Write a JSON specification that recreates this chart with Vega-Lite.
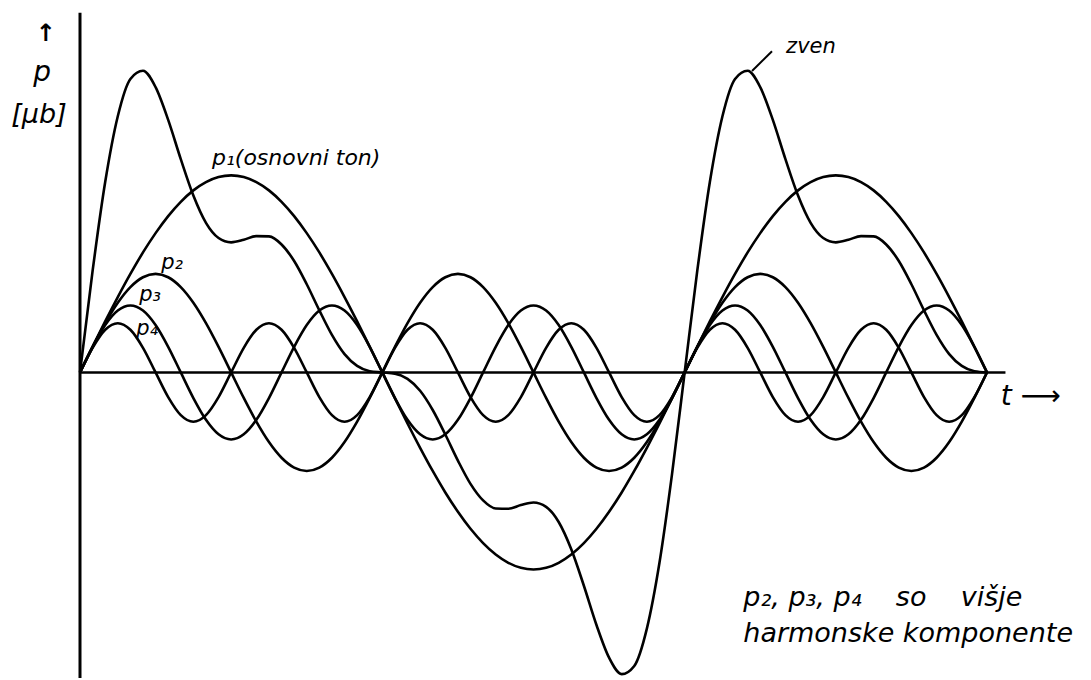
{
  "$schema": "https://vega.github.io/schema/vega-lite/v6.json",
  "width": 1091,
  "height": 680,
  "autosize": {"type": "fit", "contains": "padding"},
  "padding": 0,
  "background": "white",
  "config": {"view": {"stroke": null}, "text": {"font": "DejaVu Sans", "fontStyle": "italic", "color": "black"}},
  "datasets": {
    "waves": [
      {"t":0,"p1":0,"p2":0,"p3":0,"p4":0,"zven":0},
      {"t":7.5,"p1":26.1,"p2":25.9,"p3":26,"p4":25,"zven":103},
      {"t":15,"p1":51.8,"p2":50,"p3":48.1,"p4":43.3,"zven":193.2},
      {"t":22.5,"p1":76.5,"p2":70.7,"p3":62.8,"p4":50,"zven":260},
      {"t":30,"p1":100,"p2":86.6,"p3":68,"p4":43.3,"zven":297.9},
      {"t":37.5,"p1":121.8,"p2":96.6,"p3":62.8,"p4":25,"zven":306.2},
      {"t":45,"p1":141.4,"p2":100,"p3":48.1,"p4":0,"zven":289.5},
      {"t":52.5,"p1":158.7,"p2":96.6,"p3":26,"p4":-25,"zven":256.3},
      {"t":60,"p1":173.2,"p2":86.6,"p3":0,"p4":-43.3,"zven":216.5},
      {"t":67.5,"p1":184.8,"p2":70.7,"p3":-26,"p4":-50,"zven":179.5},
      {"t":75,"p1":193.2,"p2":50,"p3":-48.1,"p4":-43.3,"zven":151.8},
      {"t":82.5,"p1":198.3,"p2":25.9,"p3":-62.8,"p4":-25,"zven":136.4},
      {"t":90,"p1":200,"p2":0,"p3":-68,"p4":0,"zven":132},
      {"t":97.5,"p1":198.3,"p2":-25.9,"p3":-62.8,"p4":25,"zven":134.6},
      {"t":105,"p1":193.2,"p2":-50,"p3":-48.1,"p4":43.3,"zven":138.4},
      {"t":112.5,"p1":184.8,"p2":-70.7,"p3":-26,"p4":50,"zven":138.1},
      {"t":120,"p1":173.2,"p2":-86.6,"p3":0,"p4":43.3,"zven":129.9},
      {"t":127.5,"p1":158.7,"p2":-96.6,"p3":26,"p4":25,"zven":113.1},
      {"t":135,"p1":141.4,"p2":-100,"p3":48.1,"p4":0,"zven":89.5},
      {"t":142.5,"p1":121.8,"p2":-96.6,"p3":62.8,"p4":-25,"zven":63},
      {"t":150,"p1":100,"p2":-86.6,"p3":68,"p4":-43.3,"zven":38.1},
      {"t":157.5,"p1":76.5,"p2":-70.7,"p3":62.8,"p4":-50,"zven":18.6},
      {"t":165,"p1":51.8,"p2":-50,"p3":48.1,"p4":-43.3,"zven":6.6},
      {"t":172.5,"p1":26.1,"p2":-25.9,"p3":26,"p4":-25,"zven":1.2},
      {"t":180,"p1":0,"p2":0,"p3":0,"p4":0,"zven":0},
      {"t":187.5,"p1":-26.1,"p2":25.9,"p3":-26,"p4":25,"zven":-1.2},
      {"t":195,"p1":-51.8,"p2":50,"p3":-48.1,"p4":43.3,"zven":-6.6},
      {"t":202.5,"p1":-76.5,"p2":70.7,"p3":-62.8,"p4":50,"zven":-18.6},
      {"t":210,"p1":-100,"p2":86.6,"p3":-68,"p4":43.3,"zven":-38.1},
      {"t":217.5,"p1":-121.8,"p2":96.6,"p3":-62.8,"p4":25,"zven":-63},
      {"t":225,"p1":-141.4,"p2":100,"p3":-48.1,"p4":0,"zven":-89.5},
      {"t":232.5,"p1":-158.7,"p2":96.6,"p3":-26,"p4":-25,"zven":-113.1},
      {"t":240,"p1":-173.2,"p2":86.6,"p3":0,"p4":-43.3,"zven":-129.9},
      {"t":247.5,"p1":-184.8,"p2":70.7,"p3":26,"p4":-50,"zven":-138.1},
      {"t":255,"p1":-193.2,"p2":50,"p3":48.1,"p4":-43.3,"zven":-138.4},
      {"t":262.5,"p1":-198.3,"p2":25.9,"p3":62.8,"p4":-25,"zven":-134.6},
      {"t":270,"p1":-200,"p2":0,"p3":68,"p4":0,"zven":-132},
      {"t":277.5,"p1":-198.3,"p2":-25.9,"p3":62.8,"p4":25,"zven":-136.4},
      {"t":285,"p1":-193.2,"p2":-50,"p3":48.1,"p4":43.3,"zven":-151.8},
      {"t":292.5,"p1":-184.8,"p2":-70.7,"p3":26,"p4":50,"zven":-179.5},
      {"t":300,"p1":-173.2,"p2":-86.6,"p3":0,"p4":43.3,"zven":-216.5},
      {"t":307.5,"p1":-158.7,"p2":-96.6,"p3":-26,"p4":25,"zven":-256.3},
      {"t":315,"p1":-141.4,"p2":-100,"p3":-48.1,"p4":0,"zven":-289.5},
      {"t":322.5,"p1":-121.8,"p2":-96.6,"p3":-62.8,"p4":-25,"zven":-306.2},
      {"t":330,"p1":-100,"p2":-86.6,"p3":-68,"p4":-43.3,"zven":-297.9},
      {"t":337.5,"p1":-76.5,"p2":-70.7,"p3":-62.8,"p4":-50,"zven":-260},
      {"t":345,"p1":-51.8,"p2":-50,"p3":-48.1,"p4":-43.3,"zven":-193.2},
      {"t":352.5,"p1":-26.1,"p2":-25.9,"p3":-26,"p4":-25,"zven":-103},
      {"t":360,"p1":0,"p2":0,"p3":0,"p4":0,"zven":0},
      {"t":367.5,"p1":26.1,"p2":25.9,"p3":26,"p4":25,"zven":103},
      {"t":375,"p1":51.8,"p2":50,"p3":48.1,"p4":43.3,"zven":193.2},
      {"t":382.5,"p1":76.5,"p2":70.7,"p3":62.8,"p4":50,"zven":260},
      {"t":390,"p1":100,"p2":86.6,"p3":68,"p4":43.3,"zven":297.9},
      {"t":397.5,"p1":121.8,"p2":96.6,"p3":62.8,"p4":25,"zven":306.2},
      {"t":405,"p1":141.4,"p2":100,"p3":48.1,"p4":0,"zven":289.5},
      {"t":412.5,"p1":158.7,"p2":96.6,"p3":26,"p4":-25,"zven":256.3},
      {"t":420,"p1":173.2,"p2":86.6,"p3":0,"p4":-43.3,"zven":216.5},
      {"t":427.5,"p1":184.8,"p2":70.7,"p3":-26,"p4":-50,"zven":179.5},
      {"t":435,"p1":193.2,"p2":50,"p3":-48.1,"p4":-43.3,"zven":151.8},
      {"t":442.5,"p1":198.3,"p2":25.9,"p3":-62.8,"p4":-25,"zven":136.4},
      {"t":450,"p1":200,"p2":0,"p3":-68,"p4":0,"zven":132},
      {"t":457.5,"p1":198.3,"p2":-25.9,"p3":-62.8,"p4":25,"zven":134.6},
      {"t":465,"p1":193.2,"p2":-50,"p3":-48.1,"p4":43.3,"zven":138.4},
      {"t":472.5,"p1":184.8,"p2":-70.7,"p3":-26,"p4":50,"zven":138.1},
      {"t":480,"p1":173.2,"p2":-86.6,"p3":0,"p4":43.3,"zven":129.9},
      {"t":487.5,"p1":158.7,"p2":-96.6,"p3":26,"p4":25,"zven":113.1},
      {"t":495,"p1":141.4,"p2":-100,"p3":48.1,"p4":0,"zven":89.5},
      {"t":502.5,"p1":121.8,"p2":-96.6,"p3":62.8,"p4":-25,"zven":63},
      {"t":510,"p1":100,"p2":-86.6,"p3":68,"p4":-43.3,"zven":38.1},
      {"t":517.5,"p1":76.5,"p2":-70.7,"p3":62.8,"p4":-50,"zven":18.6},
      {"t":525,"p1":51.8,"p2":-50,"p3":48.1,"p4":-43.3,"zven":6.6},
      {"t":532.5,"p1":26.1,"p2":-25.9,"p3":26,"p4":-25,"zven":1.2},
      {"t":540,"p1":0,"p2":0,"p3":0,"p4":0,"zven":0}
    ]
  },
  "layer": [
    {
      "data": {"values": [{"a": 1}]},
      "mark": {"type": "rule", "strokeWidth": 3, "color": "black"},
      "encoding": {
        "x": {"datum": 0, "type": "quantitative", "scale": {"domain": [-47.63, 601.93], "nice": false, "zero": false}, "axis": null},
        "y": {"datum": -310, "type": "quantitative", "scale": {"domain": [-302, 378], "nice": false, "zero": false}, "axis": null},
        "y2": {"datum": 365}
      }
    },
    {
      "data": {"values": [{"a": 1}]},
      "mark": {"type": "rule", "strokeWidth": 2.5, "color": "black"},
      "encoding": {
        "x": {"datum": 0, "type": "quantitative", "scale": {"domain": [-47.63, 601.93], "nice": false, "zero": false}, "axis": null},
        "x2": {"datum": 551},
        "y": {"datum": 0, "type": "quantitative", "scale": {"domain": [-302, 378], "nice": false, "zero": false}, "axis": null}
      }
    },
    {
      "data": {"values": [{"a": 1}]},
      "mark": {"type": "rule", "strokeWidth": 2, "color": "black"},
      "encoding": {
        "x": {"datum": 400.1, "type": "quantitative", "scale": {"domain": [-47.63, 601.93], "nice": false, "zero": false}, "axis": null},
        "x2": {"datum": 412},
        "y": {"datum": 306, "type": "quantitative", "scale": {"domain": [-302, 378], "nice": false, "zero": false}, "axis": null},
        "y2": {"datum": 326}
      }
    },
    {
      "data": {"name": "waves"},
      "transform": [{"fold": ["p1", "p2", "p3", "p4", "zven"], "as": ["series", "value"]}],
      "mark": {"type": "line", "interpolate": "monotone", "strokeWidth": 2.6, "color": "black"},
      "encoding": {
        "x": {"field": "t", "type": "quantitative", "scale": {"domain": [-47.63, 601.93], "nice": false, "zero": false}, "axis": null},
        "y": {"field": "value", "type": "quantitative", "scale": {"domain": [-302, 378], "nice": false, "zero": false}, "axis": null},
        "detail": {"field": "series"}
      }
    },
    {
      "data": {"values": [
        {"label": "p", "t": -22.6, "v": 304},
        {"label": "t ⟶", "t": 566, "v": -25}
      ]},
      "mark": {"type": "text", "fontSize": 28, "align": "center", "baseline": "middle"},
      "encoding": {
        "x": {"field": "t", "type": "quantitative", "scale": {"domain": [-47.63, 601.93], "nice": false, "zero": false}, "axis": null},
        "y": {"field": "v", "type": "quantitative", "scale": {"domain": [-302, 378], "nice": false, "zero": false}, "axis": null},
        "text": {"field": "label"}
      }
    },
    {
      "data": {"values": [
        {"label": "↑", "t": -20.5, "v": 343}
      ]},
      "mark": {"type": "text", "fontSize": 24, "fontStyle": "normal", "fontWeight": "bold", "align": "center", "baseline": "middle"},
      "encoding": {
        "x": {"field": "t", "type": "quantitative", "scale": {"domain": [-47.63, 601.93], "nice": false, "zero": false}, "axis": null},
        "y": {"field": "v", "type": "quantitative", "scale": {"domain": [-302, 378], "nice": false, "zero": false}, "axis": null},
        "text": {"field": "label"}
      }
    },
    {
      "data": {"values": [
        {"label": "[μb]", "t": -24.4, "v": 261}
      ]},
      "mark": {"type": "text", "fontSize": 27, "align": "center", "baseline": "middle"},
      "encoding": {
        "x": {"field": "t", "type": "quantitative", "scale": {"domain": [-47.63, 601.93], "nice": false, "zero": false}, "axis": null},
        "y": {"field": "v", "type": "quantitative", "scale": {"domain": [-302, 378], "nice": false, "zero": false}, "axis": null},
        "text": {"field": "label"}
      }
    },
    {
      "data": {"values": [
        {"label": "p₂", "t": 54.8, "v": 111},
        {"label": "p₃", "t": 41.7, "v": 79},
        {"label": "p₄", "t": 39.9, "v": 44},
        {"label": "zven", "t": 435.2, "v": 330}
      ]},
      "mark": {"type": "text", "fontSize": 21, "align": "center", "baseline": "middle"},
      "encoding": {
        "x": {"field": "t", "type": "quantitative", "scale": {"domain": [-47.63, 601.93], "nice": false, "zero": false}, "axis": null},
        "y": {"field": "v", "type": "quantitative", "scale": {"domain": [-302, 378], "nice": false, "zero": false}, "axis": null},
        "text": {"field": "label"}
      }
    },
    {
      "data": {"values": [
        {"label": "p₁(osnovni ton)", "t": 78.6, "v": 218}
      ]},
      "mark": {"type": "text", "fontSize": 22, "align": "left", "baseline": "middle"},
      "encoding": {
        "x": {"field": "t", "type": "quantitative", "scale": {"domain": [-47.63, 601.93], "nice": false, "zero": false}, "axis": null},
        "y": {"field": "v", "type": "quantitative", "scale": {"domain": [-302, 378], "nice": false, "zero": false}, "axis": null},
        "text": {"field": "label"}
      }
    },
    {
      "data": {"values": [
        {"label": "p₂,\u00a0p₃,\u00a0p₄\u00a0\u00a0\u00a0\u00a0so\u00a0\u00a0\u00a0\u00a0višje", "t": 394.9, "v": -229},
        {"label": "harmonske komponente", "t": 394.9, "v": -265}
      ]},
      "mark": {"type": "text", "fontSize": 27, "align": "left", "baseline": "middle"},
      "encoding": {
        "x": {"field": "t", "type": "quantitative", "scale": {"domain": [-47.63, 601.93], "nice": false, "zero": false}, "axis": null},
        "y": {"field": "v", "type": "quantitative", "scale": {"domain": [-302, 378], "nice": false, "zero": false}, "axis": null},
        "text": {"field": "label"}
      }
    }
  ]
}
